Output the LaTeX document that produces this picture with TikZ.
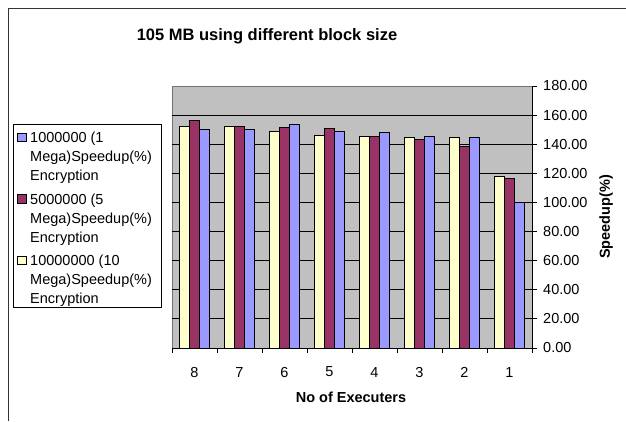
\documentclass[tikz,border=0pt]{standalone}
\usepackage{fontspec}
\setmainfont{Liberation Sans}
\definecolor{barblue}{HTML}{9999FF}
\definecolor{barplum}{HTML}{993366}
\definecolor{barcream}{HTML}{FFFFCC}
\definecolor{plotgray}{HTML}{C0C0C0}

\begin{document}
\begin{tikzpicture}[x=1pt, y=-1pt,
  lbl/.style={font=\fontsize{14.5}{19}\selectfont, inner sep=0},
  head/.style={lbl, font=\fontsize{14.5}{19}\selectfont\bfseries},
  bar/.style={draw=black, line width=0.8pt, fill=#1},
  keybox/.style={draw=black, line width=0.8pt, minimum size=8.5pt, inner sep=0},
  grid line/.style={black, line width=1pt}]
\useasboundingbox (0,0) rectangle (626,421);
% outer frame
\draw[black!80, line width=1.5pt] (8.5,421) -- (8.5,8.5) -- (626,8.5);
\node[head, font=\fontsize{16.5}{20}\selectfont\bfseries] (title) at (267,36) {105 MB using different block size};

% plot area, values in percent
\begin{scope}[shift={(172,348)}, y=1.45556pt]
  \fill[plotgray] (0,0) rectangle (360,180);
  \draw[black!55, line width=0.8pt] (0,0) rectangle (360,180);
  \foreach \v in {20,40,...,160} \draw[grid line] (0,\v) -- (360,\v);
  \foreach \cat/\ya/\yb/\yc [count=\i from 0] in {8/152.5/156.6/150.1, 7/152.5/152.0/150.0,
      6/148.6/151.6/153.8, 5/146.0/150.8/148.6, 4/145.2/145.2/147.9,
      3/144.5/143.3/145.2, 2/144.5/138.7/144.5, 1/117.7/116.8/100.3} {
    \draw[bar=barcream] ({45*\i+7.5},0) rectangle ++(10,\ya);
    \draw[bar=barplum]  ({45*\i+17.5},0) rectangle ++(10,\yb);
    \draw[bar=barblue]  ({45*\i+27.5},0) rectangle ++(10,\yc);
    \draw[line width=1pt] ({45*\i},0) -- ++(0pt,-5pt);
    \node[lbl] (cat\cat) at ({45*\i+22.5},-16.5) {\cat};
  }
  \draw[line width=1pt] (360,0) -- ++(0pt,-5pt);
  \draw[line width=1pt] (0,0) -- (360,0);
  \draw[line width=1pt] (360,0) -- (360,180);
  \foreach \v in {0,20,...,180} {
    \draw[line width=1pt] (360,\v) -- ++(5pt,0pt);
    \node[lbl, anchor=west] (ytick\v) at (371,\v) {\v.00};
  }
\end{scope}

\node[head] (xtitle) at (351,397) {No of Executers};
\node[head, rotate=90] (ytitle) at (606,217) {Speedup(\%)};

% legend
\node[draw, line width=0.8pt, anchor=north west, minimum width=148.2pt, minimum height=182.4pt, inner sep=0] (legend) at (12.5,124.3) {};
\foreach \col/\txt [count=\k from 0] in {barblue/{1000000 (1}, barplum/{5000000 (5}, barcream/{10000000 (10}} {
  \node[keybox, fill=\col] (key\k) at (21.7,{137.5+61.5*\k}) {};
  \node[lbl, anchor=north west, align=left] (entry\k) at (30,{132+61.5*\k}) {\txt\\Mega)Speedup(\%)\\Encryption};
}
\end{tikzpicture}
\end{document}
